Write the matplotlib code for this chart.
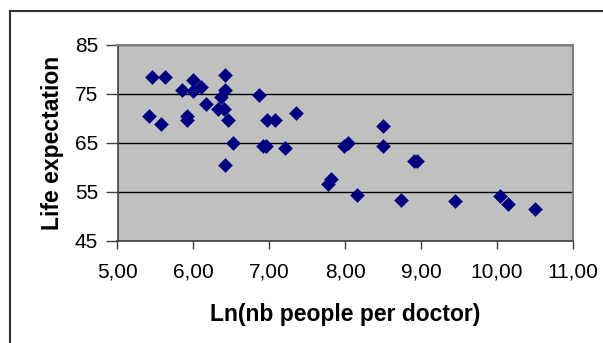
import matplotlib.pyplot as plt
from matplotlib.lines import Line2D
from matplotlib.ticker import FuncFormatter

# Datos
ln_doctor = [5.46, 5.63, 5.42, 5.57, 5.85, 6.00, 6.00, 6.10, 5.92, 5.92,
             6.17, 6.36, 6.33, 6.40, 6.42, 6.42, 6.46, 6.52, 6.42, 6.87,
             6.92, 6.95, 6.97, 7.08, 7.20, 7.35, 7.77, 7.81, 7.99, 8.04,
             8.15, 8.50, 8.50, 8.73, 8.91, 8.94, 9.44, 10.04, 10.15, 10.50]
life_exp = [78.5, 78.5, 70.4, 68.8, 75.9, 77.8, 75.5, 76.5, 70.4, 69.7,
            73.0, 74.3, 72.0, 72.0, 78.8, 75.9, 69.7, 65.0, 60.5, 74.8,
            64.4, 64.4, 69.7, 69.7, 64.0, 71.0, 56.5, 57.6, 64.4, 65.0,
            54.3, 68.5, 64.4, 53.3, 61.2, 61.2, 53.1, 54.1, 52.4, 51.5]
x_ticks = [5, 6, 7, 8, 9, 10, 11]
y_ticks = [45, 55, 65, 75, 85]

plt.rcParams['font.family'] = ['Liberation Sans', 'DejaVu Sans']

fig = plt.figure(figsize=(6.03, 3.43), dpi=100)
W, H = 603, 343
ax = fig.add_axes([117.5 / W, 1 - 240.7 / H, (573 - 117.5) / W, (240.7 - 45) / H])
ax.set_facecolor('#C0C0C0')

ax.scatter(ln_doctor, life_exp, marker='D', s=56, color='#000080', zorder=3, linewidths=0)

ax.set_xlim(5, 11)
ax.set_ylim(45, 85)
ax.set_xticks(x_ticks)
ax.set_yticks(y_ticks)
ax.xaxis.set_major_formatter(FuncFormatter(lambda v, p: '{:.2f}'.format(v).replace('.', ',')))
ax.tick_params(axis='x', length=6, width=1, labelsize=15, pad=10, color='#404040')
ax.tick_params(axis='y', length=9, width=1, labelsize=15, pad=5, color='#404040')
ax.grid(axis='y', color='black', lw=1)
ax.set_axisbelow(True)

for s in ['left', 'bottom']:
    ax.spines[s].set_color('#404040')
    ax.spines[s].set_linewidth(1.2)
for s in ['top', 'right']:
    ax.spines[s].set_color('#808080')
    ax.spines[s].set_linewidth(1.5)

ax.set_xlabel('Ln(nb people per doctor)', fontsize=16.5, fontweight='bold', labelpad=15)
ax.set_ylabel('Life expectation', fontsize=16.5, fontweight='bold', labelpad=8)

# Marco exterior (solo arriba e izquierda visibles)
fig.add_artist(Line2D([9.5 / W, 1], [1 - 11 / H, 1 - 11 / H], color='#333333', lw=1.5))
fig.add_artist(Line2D([9.5 / W, 9.5 / W], [0, 1 - 11 / H], color='#333333', lw=1.5))

fig.savefig('out.png', dpi=100)
